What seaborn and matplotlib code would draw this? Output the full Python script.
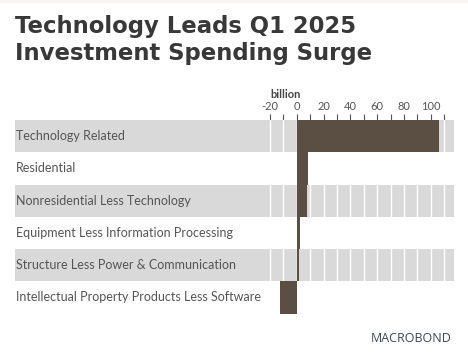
import matplotlib
matplotlib.use("Agg")
import matplotlib.pyplot as plt
import seaborn as sns
import pandas as pd
from matplotlib.patches import Rectangle

categories = [
    "Technology Related",
    "Residential",
    "Nonresidential Less Technology",
    "Equipment Less Information Processing",
    "Structure Less Power & Communication",
    "Intellectual Property Products Less Software",
]
values = [106.2, 8.7, 8.0, 2.4, 2.0, -12.4]
tick_values = [-20, 0, 20, 40, 60, 80, 100]
title_lines = ["Technology Leads Q1 2025", "Investment Spending Surge"]
unit_label = "billion"

sns.set_theme(style="white")
plt.rcParams["font.family"] = ["Lato", "DejaVu Sans"]

W, H = 468, 353
fig = plt.figure(figsize=(W / 100, H / 100), dpi=100)
fig.patch.set_facecolor("white")

# top beige strip
fig.patches.append(Rectangle((0, 1 - 3 / H), 1, 3 / H, transform=fig.transFigure,
                             facecolor="#f6f5f0", edgecolor="none", zorder=0))

left, right, top, bottom = 15, 454.3, 120, 313.5
ax = fig.add_axes([left / W, 1 - bottom / H, (right - left) / W, (bottom - top) / H])

df = pd.DataFrame({"category": categories, "value": values})
sns.barplot(data=df, y="category", x="value", orient="h", color="#5b4e42",
            saturation=1, width=1.0, ax=ax, zorder=3, edgecolor="none")

ax.set_xlim(-210.2, 117.6)
ax.set_ylim(len(categories) - 0.5, -0.5)

# alternating bands
for i in range(0, len(categories), 2):
    ax.axhspan(i - 0.5, i + 0.5, color="#d9d9d9", zorder=0, lw=0)

# white gridlines
for g in range(-20, 111, 10):
    ax.axvline(g, color="white", lw=1.0, zorder=1)

for s in ax.spines.values():
    s.set_visible(False)

ax.set_ylabel("")
ax.set_xlabel("")
ax.set_yticks([])
ax.xaxis.tick_top()
ax.set_xticks(tick_values)
ax.set_xticklabels([str(t) for t in tick_values])
ax.set_xticks(list(range(-20, 111, 10)), minor=True)
ax.tick_params(axis="x", which="both", top=True, bottom=False, length=4,
               width=0.8, color="#555555", direction="out", pad=2,
               labelsize=8, labelcolor="#555555")

for i, c in enumerate(categories):
    ax.text(0.003, i, c, transform=ax.get_yaxis_transform(), ha="left",
            va="center", fontsize=9, color="#555555", zorder=4)

fig.text(286 / W, 1 - 95 / H, unit_label, ha="center", va="center",
         fontsize=8, fontweight="bold", color="#444444")

for k, line in enumerate(title_lines):
    fig.text(15 / W, 1 - (33 + 27 * k) / H, line, ha="left", va="baseline",
             fontsize=16.4, fontweight="bold", color="#383838",
             family=["DejaVu Sans"])

fig.text(411.5 / W, 1 - 339 / H, "MACROBOND", ha="center", va="center",
         fontsize=9, color="#3d4654", family=["Open Sans", "DejaVu Sans"])

fig.savefig("out.png", dpi=100, facecolor="white")
